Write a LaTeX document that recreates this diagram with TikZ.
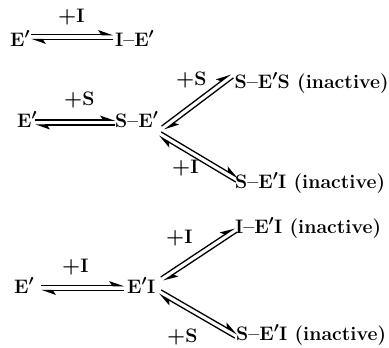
\documentclass[tikz,border=0pt]{standalone}
\usetikzlibrary{arrows.meta,calc}
\begin{document}
\begin{tikzpicture}[x=1pt,y=-1pt,
  lbl/.style={anchor=base west,inner sep=0pt,font=\fontsize{19.5}{22}\selectfont\bfseries\boldmath},
  harp/.style={line width=1.3pt,-{Stealth[harpoon,length=13pt,width=9pt,inset=3pt]}}]
% reversible reaction: two parallel harpoons between two points
\newcommand\eqarrow[2]{%
  \draw[harp] ($(#1)!2.4pt!90:(#2)$) -- ($(#2)!2.4pt!-90:(#1)$);
  \draw[harp] ($(#2)!2.4pt!90:(#1)$) -- ($(#1)!2.4pt!-90:(#2)$);}
\useasboundingbox (0,0) rectangle (389,348);

% E' + I <=> I-E'
\node[lbl] (e1) at (10,46) {E$'$};
\node[lbl] (ie) at (115,46) {I--E$'$};
\node[lbl] (l1) at (58,23) {$+$I};
\coordinate (a1) at (31,37);
\coordinate (b1) at (113,37);
\eqarrow{a1}{b1}

% E' + S <=> S-E', then branches
\node[lbl] (e2) at (17,127) {E$'$};
\node[lbl] (se) at (115,127) {S--E$'$};
\node[lbl] (l2) at (64,105) {$+$S};
\coordinate (a2) at (35,122.5);
\coordinate (b2) at (115,122.5);
\eqarrow{a2}{b2}

\node[lbl] (ses) at (234.5,88) {S--E$'$S (inactive)};
\node[lbl] (l3) at (176,85) {$+$S};
\coordinate (a3) at (163,128);
\coordinate (b3) at (232,76);
\eqarrow{a3}{b3}

\node[lbl] (sei1) at (235,188) {S--E$'$I (inactive)};
\node[lbl] (l4) at (172,173) {$+$I};
\coordinate (a4) at (160,134);
\coordinate (b4) at (237,180);
\eqarrow{a4}{b4}

% E' + I <=> E'I, then branches
\node[lbl] (e3) at (14,293) {E$'$};
\node[lbl] (ei) at (127,293) {E$'$I};
\node[lbl] (l5) at (62,272) {$+$I};
\coordinate (a5) at (41,288);
\coordinate (b5) at (124,288);
\eqarrow{a5}{b5}

\node[lbl] (iei) at (235,233) {I--E$'$I (inactive)};
\node[lbl] (l6) at (166,243) {$+$I};
\coordinate (a6) at (162,279);
\coordinate (b6) at (236,230);
\eqarrow{a6}{b6}

\node[lbl] (sei2) at (236,340) {S--E$'$I (inactive)};
\node[lbl] (l7) at (167,342) {$+$S};
\coordinate (a7) at (160,292);
\coordinate (b7) at (236,336);
\eqarrow{a7}{b7}
\end{tikzpicture}
\end{document}
